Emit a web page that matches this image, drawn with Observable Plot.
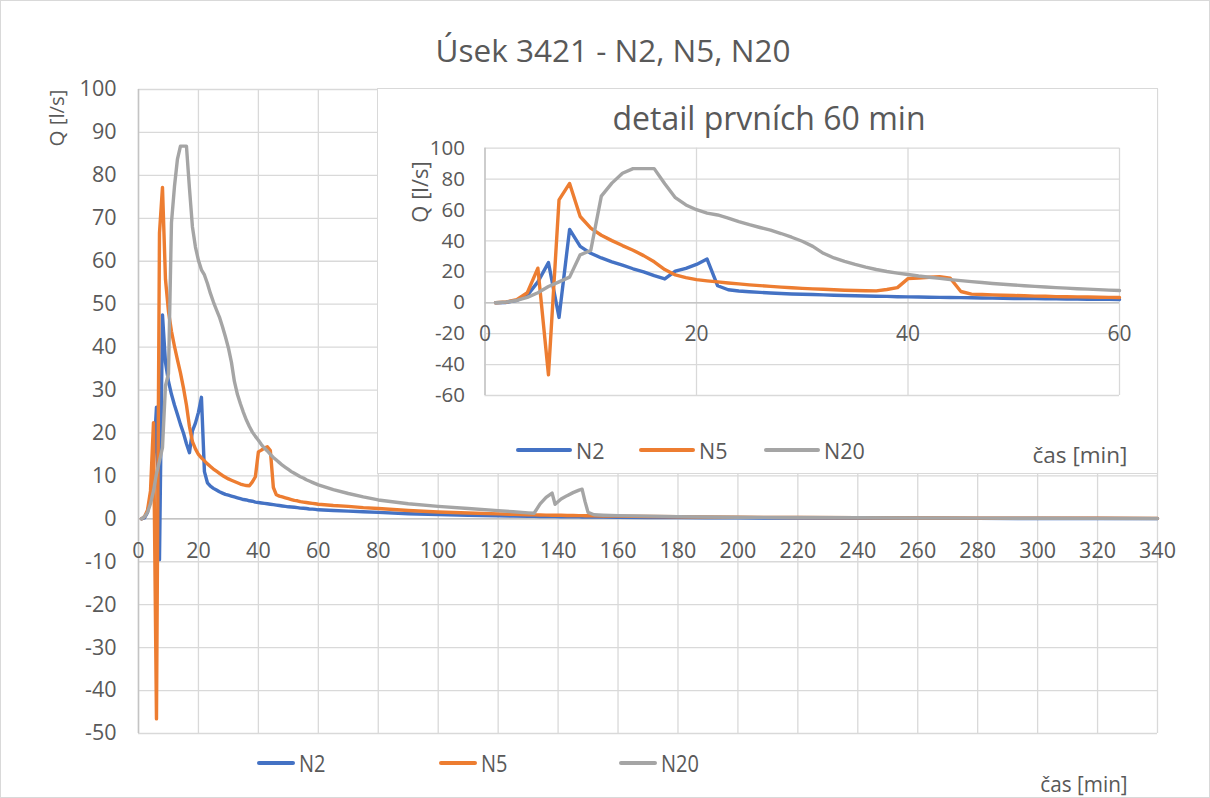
<!DOCTYPE html>
<html><head><meta charset="utf-8">
<script src="https://cdn.jsdelivr.net/npm/d3@7"></script>
<script src="https://cdn.jsdelivr.net/npm/@observablehq/plot@0.6"></script>
<style>
body{margin:0;background:#fff;font-family:"Segoe UI","Open Sans",sans-serif;color:#595959}
#wrap{position:relative;width:1210px;height:798px;overflow:hidden;box-sizing:border-box;border:1px solid #d9d9d9}
.abs{position:absolute;white-space:nowrap;line-height:1.2}
.c{transform:translate(-50%,-50%)}
.rot{transform:translate(-50%,-50%) rotate(-90deg)}
#inset{position:absolute;left:376px;top:87px;width:781px;height:386px;background:#fff;box-sizing:border-box;border:1px solid #d9d9d9}
.plotsvg{position:absolute;left:0;top:0}
.leg{position:absolute;display:flex;align-items:center;white-space:nowrap}
.leg svg{display:block;flex:none}
</style></head><body><div id="wrap"><div id="mainplot"></div></div>
<script>
// ---------- data ----------
const time = [1,2,3,4,5,6,7,8,9,10,11,12,13,14,15,16,17,18,19,20,
  21,22,23,24,25,26,27,28,29,30,31,32,33,34,35,36,37,38,39,40,
  41,42,43,44,45,46,47,48,49,50,51,52,53,54,55,56,57,58,59,60,
  65,70,75,80,90,100,110,120,125,130,132,134,136,138,139,141,143,145,147,148,149,150,152,155,160,
  170,180,190,200,220,240,260,280,300,320,340];
const n2 = [0,0.2,1.5,4.8,13.5,26,-9.5,47.5,36.5,32,29,26.5,24.3,22,20,17.5,15.4,20.5,22.3,24.8,
  28.3,11,8.4,7.6,7.1,6.7,6.3,6.0,5.7,5.5,5.3,5.1,4.9,4.7,4.5,4.4,4.2,4.1,3.9,3.8,
  3.7,3.6,3.5,3.4,3.3,3.2,3.1,3.0,2.9,2.8,2.75,2.7,2.6,2.5,2.45,2.4,2.3,2.25,2.2,2.1,
  1.95,1.8,1.65,1.5,1.2,1.0,0.85,0.7,0.65,0.6,0.58,0.56,0.54,0.52,0.51,0.49,0.47,0.46,0.45,0.44,0.43,0.42,0.41,0.39,0.36,
  0.32,0.28,0.25,0.22,0.18,0.15,0.12,0.1,0.08,0.07,0.06];
const n5 = [0,0.5,2,6.5,22.4,-46.6,66.6,77.2,55.8,48.3,43.7,40.2,37,34,30.5,26.5,21.5,18,16.3,15,
  14.2,13.5,12.8,12.2,11.6,11.1,10.6,10.1,9.7,9.3,9.0,8.7,8.4,8.1,7.9,7.75,7.7,8.6,9.8,15.6,
  16.0,16.5,16.8,15.9,7.3,5.6,5.3,5.1,4.9,4.7,4.5,4.3,4.2,4.0,3.9,3.8,3.7,3.6,3.5,3.4,
  3.1,2.9,2.6,2.4,1.95,1.6,1.35,1.15,1.05,0.95,0.92,0.9,0.87,0.85,0.84,0.82,0.79,0.77,0.75,0.74,0.73,0.72,0.7,0.67,0.62,
  0.55,0.48,0.42,0.37,0.3,0.25,0.2,0.17,0.14,0.12,0.1];
const n20 = [0,0.5,1.5,3.5,6.5,10.5,13.5,16.6,31,33.8,69,77.4,83.8,86.8,86.8,86.8,77,68,63.3,60.2,
  58,56.8,54.8,52.5,50.5,48.7,47,44.8,42.4,39.8,36.5,32,29,26.8,24.8,23,21.5,20.2,19.2,18.3,
  17.3,16.5,15.8,15,14.3,13.7,13.1,12.5,12,11.5,11,10.6,10.2,9.8,9.5,9.1,8.8,8.5,8.2,7.9,
  6.8,5.9,5.1,4.4,3.5,2.9,2.4,1.9,1.65,1.4,1.3,3.5,5.0,6.0,3.4,4.6,5.4,6.1,6.7,6.9,4.0,1.5,0.95,0.85,0.75,
  0.62,0.52,0.44,0.38,0.3,0.25,0.2,0.16,0.13,0.11,0.09];
const seriesNames = ["N2","N5","N20"];
const seriesColors = ["#4472C4","#ED7D31","#A5A5A5"];
const mainXTicks = [0,20,40,60,80,100,120,140,160,180,200,220,240,260,280,300,320,340];
const mainYTicks = [-50,-40,-30,-20,-10,0,10,20,30,40,50,60,70,80,90,100];
const insetXTicks = [0,20,40,60];
const insetYTicks = [-60,-40,-20,0,20,40,60,80,100];
const mainTitle = "Úsek 3421 - N2, N5, N20";
const insetTitle = "detail prvních 60 min";
const yTitle = "Q [l/s]";
const xTitle = "čas [min]";

// ---------- build table ----------
const seriesValues = [n2, n5, n20];
const rows = seriesNames.flatMap((s, k) => time.map((t, i) => ({t, q: seriesValues[k][i], s})));
const insetRows = rows.filter(d => d.t <= 60);

const FONT = '"Segoe UI","Open Sans",sans-serif';
const TXT = "#595959";
const GRID = "#d9d9d9";

const main = Plot.plot({
  width: 1208, height: 796,
  marginLeft: 137, marginRight: 52, marginTop: 88, marginBottom: 64,
  x: {domain: [0, 340], axis: null},
  y: {domain: [-50, 100], axis: null},
  color: {domain: seriesNames, range: seriesColors},
  style: {background: "transparent", fontFamily: FONT, color: TXT, overflow: "visible"},
  marks: [
    Plot.ruleY(mainYTicks, {stroke: GRID, strokeWidth: 1.3}),
    Plot.ruleX(mainXTicks, {stroke: GRID, strokeWidth: 1.3}),
    Plot.ruleX([0], {stroke: "#c4c4c4", strokeWidth: 1.5}),
    Plot.ruleY([0], {stroke: "#c4c4c4", strokeWidth: 1.5}),
    Plot.line(rows, {x: "t", y: "q", z: "s", stroke: "s", strokeWidth: 3.4, strokeLinejoin: "round"}),
    Plot.text(mainYTicks, {x: 0, y: d => d, dx: -22, textAnchor: "end", text: d => String(d), fontSize: 21.5, fill: TXT}),
    Plot.text(mainXTicks, {x: d => d, y: 0, dy: 32, textAnchor: "middle", text: d => String(d), fontSize: 21.5, fill: TXT})
  ]
});
main.classList.add("plotsvg");
document.getElementById("mainplot").appendChild(main);

const inset = Plot.plot({
  width: 779, height: 384,
  marginLeft: 106.5, marginRight: 38, marginTop: 58.7, marginBottom: 78,
  x: {domain: [0, 60], axis: null},
  y: {domain: [-60, 100], axis: null},
  color: {domain: seriesNames, range: seriesColors},
  style: {background: "transparent", fontFamily: FONT, color: TXT, overflow: "visible"},
  marks: [
    Plot.ruleY(insetYTicks, {stroke: GRID, strokeWidth: 1.3}),
    Plot.ruleX(insetXTicks, {stroke: GRID, strokeWidth: 1.3}),
    Plot.ruleX([0], {stroke: "#c4c4c4", strokeWidth: 1.5}),
    Plot.ruleY([0], {stroke: "#c4c4c4", strokeWidth: 1.5}),
    Plot.line(insetRows, {x: "t", y: "q", z: "s", stroke: "s", strokeWidth: 3.4, strokeLinejoin: "round"}),
    Plot.text(insetYTicks, {x: 0, y: d => d, dx: -20, textAnchor: "end", text: d => String(d), fontSize: 20.5, fill: TXT}),
    Plot.text(insetXTicks, {x: d => d, y: 0, dy: 32, textAnchor: "middle", text: d => String(d), fontSize: 21, fill: TXT})
  ]
});
inset.classList.add("plotsvg");
const insetDiv = document.createElement("div");
insetDiv.id = "inset";
insetDiv.appendChild(inset);
document.getElementById("wrap").appendChild(insetDiv);

function addText(parent, txt, x, y, size, cls, extra) {
  const d = document.createElement("div");
  d.className = "abs " + cls;
  d.textContent = txt;
  d.style.left = x + "px"; d.style.top = y + "px";
  d.style.fontSize = size + "px";
  if (extra) Object.assign(d.style, extra);
  parent.appendChild(d);
  return d;
}
function addLegend(parent, items, y, size, lineLen, extra) {
  items.forEach(([x, name, color]) => {
    const d = document.createElement("div");
    d.className = "leg";
    d.style.left = x + "px"; d.style.top = (y - 16) + "px"; d.style.height = "32px";
    d.style.fontSize = size + "px";
    d.innerHTML = `<svg width="${lineLen}" height="6" style="margin-right:4px"><line x1="2" y1="3" x2="${lineLen-2}" y2="3" stroke="${color}" stroke-width="4" stroke-linecap="round"/></svg><span style="display:inline-block;transform-origin:left center;${extra||""}">${name}</span>`;
    parent.appendChild(d);
  });
}
const wrap = document.getElementById("wrap");
addText(wrap, mainTitle, 612, 49, 31.5, "c");
addText(wrap, yTitle, 55, 117, 20.5, "rot");
addLegend(wrap, [[256, seriesNames[0], seriesColors[0]], [438, seriesNames[1], seriesColors[1]], [618, seriesNames[2], seriesColors[2]]], 762, 23.5, 38, "transform:scaleX(0.85)");
addText(wrap, xTitle, 1083, 782, 22.5, "c", {transform: "translate(-50%,-50%) scaleX(0.92)"});

// inset texts (coordinates relative to the inset box)
addText(insetDiv, insetTitle, 391, 29, 32, "c");
addText(insetDiv, yTitle, 41, 103, 22, "rot");
addLegend(insetDiv, [[138, seriesNames[0], seriesColors[0]], [261, seriesNames[1], seriesColors[1]], [386, seriesNames[2], seriesColors[2]]], 361, 21.5, 56, "");
addText(insetDiv, xTitle, 702, 365, 22.5, "c");
</script></body></html>
